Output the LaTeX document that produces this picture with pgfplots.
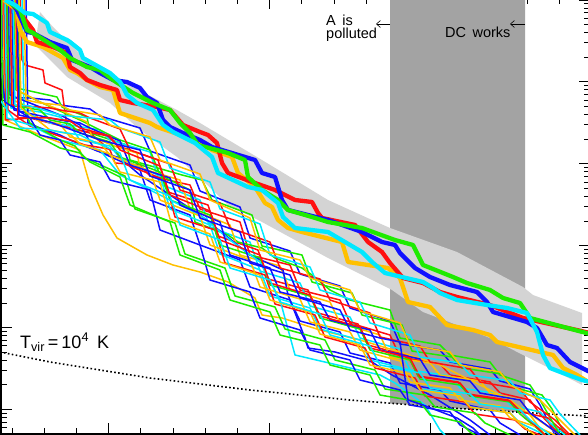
\documentclass[border=0pt]{standalone}
\usepackage{pgfplots}
\pgfplotsset{compat=1.18}
\usepackage{fontspec}
\setmainfont{Liberation Sans}
\usetikzlibrary{arrows.meta}
\definecolor{cb}{RGB}{16,16,255}
\definecolor{cr}{RGB}{255,16,16}
\definecolor{cg}{RGB}{30,235,0}
\definecolor{cc}{RGB}{0,232,255}
\definecolor{co}{RGB}{255,192,0}
\definecolor{dark}{RGB}{163,163,163}
\definecolor{light}{RGB}{212,212,212}
\begin{document}
\begin{tikzpicture}
\begin{axis}[
  scale only axis, width=589pt, height=436pt,
  xmin=1, xmax=590, ymin=-2, ymax=434, y dir=reverse,
  axis line style={line width=1.6pt},
  tick align=inside, tick style={black, line width=0.8pt},
  major tick length=11pt, minor tick length=6pt,
  xtick={108.5,269.5,430.5},
  minor xtick={11.9,44.1,76.3,140.7,172.9,205.1,237.3,301.7,333.9,366.1,398.3,462.7,494.9,527.1,559.3},
  ytick={0,81.9,163.8,245.7,327.6,409.5},
  minor ytick={57.25,42.83,32.59,24.66,18.17,12.69,7.94,3.75,
    139.15,124.73,114.49,106.56,100.07,94.59,89.84,85.65,
    221.05,206.63,196.39,188.46,181.97,176.49,171.74,167.55,
    302.95,288.53,278.29,270.36,263.87,258.39,253.64,249.45,
    384.85,370.43,360.19,352.26,345.77,340.29,335.54,331.35,
    413.25,417.44,422.19,427.67},
  xticklabels={}, yticklabels={},
  clip=true,
]
% dark band (ends at the T_vir line)
\addplot[fill=dark, draw=none] coordinates {(390,-5)(525,-5)(525,412.5)(500,411)(450,408)(400,404)(390,403.5)(390,-5)};
% light band
\addplot[fill=light, draw=none] coordinates {(40,12)(53,27)(83,57)(100,67)(133,87)(177,110)(200,123)(262,160)(328,200)(372,220)(390,228)(457,252)(523,287)(533,295)(582,313)
  (582,385)(557,372)(523,355)(490,338)(457,325)(423,312)(392,290)(328,258)(262,222)(228,205)(200,178)(177,157)(140,130)(110,103)(67,77)(35,45)(40,12)};
% T_vir = 1e4 K line
\addplot[black, line width=1.6pt, dash pattern=on 1.6pt off 2.4pt] coordinates {(0,352)(50,362)(100,370)(150,378)(200,384)(250,390)(300,395)(350,400)(400,404)(450,408)(500,411)(550,414)(590,416)};
% thin lines
\pgfplotsset{thin/.style={line width=1.5pt, line join=round}}
\addplot[cb,thin] coordinates {(2,0)(4,98)(30,98)(50,100)(60,105)(90,109)(100,116)(140,128)(150,151)(190,165)(200,191)(240,207)(250,238)(290,251)(300,274)(340,286)(350,308)(390,321)(400,344)(440,350)(450,362)(490,369)(500,381)(530,389)(540,405)(555,435)};
\addplot[cr,thin] coordinates {(20,0)(22,60)(25,65)(43,70)(45,83)(62,90)(67,127)(90,133)(110,150)(115,163)(140,165)(150,176)(190,185)(200,209)(240,222)(250,255)(290,265)(300,290)(340,300)(350,323)(390,335)(400,357)(440,364)(450,375)(490,382)(500,393)(530,400)(540,414)(560,435)};
\addplot[cg,thin] coordinates {(3,0)(12,87)(57,97)(62,107)(87,117)(90,133)(127,145)(130,160)(182,175)(202,180)(212,200)(252,215)(262,246)(302,255)(312,282)(352,293)(362,315)(402,325)(412,351)(452,357)(462,368)(502,374)(512,387)(542,395)(552,409)(565,435)};
\addplot[cc,thin] coordinates {(9,0)(11,108)(40,112)(60,117)(70,125)(100,130)(110,140)(150,152)(160,184)(200,200)(210,227)(250,242)(260,271)(300,283)(310,306)(350,317)(360,338)(400,349)(410,370)(450,376)(460,388)(500,394)(510,405)(540,412)(550,423)(565,435)};
\addplot[co,thin] coordinates {(3,0)(5,120)(40,135)(80,150)(90,185)(103,215)(117,238)(147,255)(173,265)(200,272)(228,282)(255,298)(262,315)(282,318)(320,330)(360,340)(400,352)(440,365)(480,385)(510,400)(530,415)(545,435)};
\addplot[cb,thin] coordinates {(26,0)(28,123)(40,128)(60,135)(70,140)(100,152)(140,170)(150,200)(190,215)(200,245)(240,260)(250,287)(290,300)(300,321)(340,332)(350,353)(390,363)(400,383)(440,390)(450,401)(490,410)(500,423)(520,435)};
\addplot[cr,thin] coordinates {(4,0)(6,120)(30,118)(78,130)(108,136)(118,146)(158,160)(168,192)(208,205)(218,236)(258,250)(268,279)(308,290)(318,313)(358,324)(368,345)(408,356)(418,376)(458,382)(468,394)(508,400)(518,411)(548,418)(558,427)(568,435)};
\addplot[cg,thin] coordinates {(14,0)(16,90)(40,102)(80,120)(120,140)(150,150)(160,175)(190,190)(195,222)(228,235)(238,242)(262,248)(275,258)(302,268)(312,275)(330,290)(350,300)(390,310)(400,338)(440,345)(450,355)(490,362)(500,375)(530,385)(540,400)(560,435)};
\addplot[cc,thin] coordinates {(22,0)(24,112)(50,123)(70,126)(80,140)(110,146)(120,158)(160,176)(170,209)(210,225)(220,254)(260,270)(270,296)(310,308)(320,329)(360,340)(370,360)(410,370)(420,389)(460,395)(470,407)(510,413)(520,423)(545,435)};
\addplot[co,thin] coordinates {(15,0)(17,90)(40,102)(60,110)(87,122)(92,137)(117,147)(137,153)(140,168)(180,180)(190,209)(230,225)(240,255)(280,266)(290,290)(330,302)(340,323)(380,335)(390,357)(430,363)(440,375)(480,381)(490,393)(520,400)(530,414)(560,435)};
\addplot[cb,thin] coordinates {(8,0)(10,95)(30,103)(60,115)(80,125)(95,150)(120,158)(140,175)(200,215)(250,255)(283,270)(288,295)(305,338)(308,348)(335,352)(372,362)(392,375)(430,395)(470,420)(490,435)};
\addplot[cr,thin] coordinates {(6,0)(8,110)(30,126)(85,145)(115,150)(125,164)(165,180)(175,217)(215,230)(225,263)(265,275)(275,304)(315,315)(325,337)(365,348)(375,368)(415,378)(425,396)(465,402)(475,414)(515,420)(525,429)(540,435)};
\addplot[cg,thin] coordinates {(7,0)(9,105)(40,110)(50,120)(70,124)(80,133)(110,142)(120,157)(160,172)(170,200)(210,215)(220,245)(260,258)(270,285)(310,296)(320,318)(360,329)(370,350)(410,360)(420,379)(460,385)(470,396)(510,402)(520,414)(545,435)};
\addplot[cc,thin] coordinates {(5,0)(7,118)(30,125)(60,140)(100,150)(120,175)(160,195)(200,215)(230,240)(260,262)(280,300)(295,355)(380,375)(395,383)(425,405)(440,430)(445,435)};
\addplot[co,thin] coordinates {(11,0)(13,100)(30,108)(40,120)(60,124)(70,137)(100,143)(110,155)(150,171)(160,200)(200,216)(210,245)(250,260)(260,287)(300,299)(310,322)(350,332)(360,350)(400,361)(410,382)(450,388)(460,400)(500,406)(510,418)(540,428)(555,435)};
\addplot[cb,thin] coordinates {(12,0)(14,110)(50,118)(60,120)(80,123)(90,128)(120,141)(130,165)(170,178)(180,205)(220,222)(230,255)(270,268)(280,292)(320,302)(330,320)(370,330)(380,350)(420,359)(430,375)(470,381)(480,393)(520,400)(530,413)(560,435)};
\addplot[cr,thin] coordinates {(10,0)(12,105)(50,108)(60,110)(80,113)(90,118)(120,129)(130,150)(170,164)(180,190)(220,203)(230,228)(270,242)(280,268)(320,279)(330,300)(370,313)(380,337)(420,346)(430,362)(470,369)(480,382)(520,389)(530,402)(555,420)(570,435)};
\addplot[cg,thin] coordinates {(18,0)(20,100)(30,123)(60,140)(75,146)(85,158)(125,176)(135,209)(175,223)(185,254)(225,268)(235,296)(275,307)(285,329)(325,340)(335,360)(375,370)(385,389)(425,395)(435,407)(475,413)(485,423)(510,435)};
\addplot[cc,thin] coordinates {(13,0)(15,105)(30,106)(60,115)(110,120)(120,128)(160,142)(170,168)(210,182)(220,209)(260,224)(270,255)(310,267)(320,290)(360,302)(370,323)(410,335)(420,357)(460,363)(470,375)(510,381)(520,393)(550,400)(560,414)(580,435)};
\addplot[co,thin] coordinates {(19,0)(21,108)(40,122)(50,130)(70,134)(80,144)(110,154)(120,172)(160,182)(170,219)(210,234)(220,262)(260,275)(270,300)(310,312)(320,334)(360,345)(370,365)(410,374)(420,390)(460,396)(470,407)(510,413)(520,424)(535,435)};
\addplot[cb,thin] coordinates {(0,60)(5,102)(30,118)(40,135)(60,140)(70,155)(100,162)(110,180)(150,190)(160,230)(200,245)(210,280)(250,292)(260,318)(300,330)(310,350)(350,360)(360,380)(400,390)(410,405)(450,412)(460,425)(480,435)};
\addplot[cr,thin] coordinates {(16,0)(18,118)(50,118)(70,121)(80,128)(110,136)(120,150)(160,166)(170,195)(210,211)(220,240)(260,255)(270,283)(310,295)(320,316)(360,327)(370,348)(410,358)(420,377)(460,383)(470,395)(510,401)(520,411)(545,435)};
\addplot[cg,thin] coordinates {(1,0)(3,125)(30,132)(60,148)(80,153)(90,162)(120,177)(130,205)(170,222)(180,255)(220,270)(230,300)(270,312)(280,335)(320,345)(330,365)(370,375)(380,395)(420,402)(430,415)(460,422)(470,432)(475,435)};
\addplot[cc,thin] coordinates {(0,100)(20,128)(50,130)(60,132)(80,135)(90,140)(120,153)(130,180)(170,196)(180,225)(220,240)(230,268)(270,280)(280,302)(320,314)(330,335)(370,346)(380,365)(420,373)(430,388)(470,394)(480,404)(520,410)(530,420)(550,435)};
\addplot[co,thin] coordinates {(24,0)(26,100)(40,103)(60,105)(70,110)(100,115)(110,125)(150,137)(160,160)(200,174)(210,200)(250,218)(260,250)(300,260)(310,278)(350,290)(360,311)(400,323)(410,345)(450,352)(460,365)(500,372)(510,385)(540,400)(560,420)(575,435)};
\addplot[cb,thin] coordinates {(17,0)(19,115)(50,122)(100,140)(140,150)(150,176)(190,190)(200,218)(240,232)(250,263)(290,275)(300,298)(340,310)(350,330)(380,338)(400,342)(408,400)(423,405)(457,418)(473,428)(480,435)};
% thick lines
\pgfplotsset{thick/.style={line width=4.3pt, line join=round}}
\addplot[co,thick] coordinates {(4,0)(17,10)(20,30)(27,42)(43,47)(63,58)(70,70)(77,73)(87,80)(100,87)(113,90)(120,113)(150,123)(157,127)(187,137)(200,142)(212,150)(232,157)(238,173)(255,187)(265,203)(272,207)(278,220)(288,228)(302,232)(342,242)(348,262)(388,268)(400,278)(408,302)(430,307)(447,325)(473,330)(490,335)(497,342)(523,348)(553,355)(563,368)(577,375)(590,383)};
\addplot[cr,thick] coordinates {(8,0)(20,13)(33,30)(37,42)(53,47)(67,53)(70,67)(80,73)(87,80)(100,85)(117,90)(120,100)(133,103)(157,107)(170,110)(183,125)(200,132)(208,135)(217,143)(222,163)(228,173)(255,183)(275,190)(295,200)(312,202)(318,213)(322,218)(355,225)(368,242)(382,252)(390,263)(403,278)(423,283)(440,292)(457,297)(490,305)(523,318)(590,333)};
\addplot[cb,thick] coordinates {(10,0)(13,5)(17,10)(27,32)(33,33)(50,42)(67,48)(72,60)(80,63)(90,67)(100,73)(113,80)(127,82)(140,88)(147,97)(157,103)(163,120)(170,127)(183,133)(200,140)(212,147)(255,160)(262,173)(275,177)(282,200)(288,210)(328,220)(362,232)(382,242)(395,245)(400,253)(415,268)(430,277)(450,285)(477,292)(487,302)(493,312)(527,322)(537,328)(547,345)(557,348)(570,362)(590,372)};
\addplot[cg,thick] coordinates {(6,0)(20,10)(27,30)(33,33)(60,50)(70,58)(87,67)(100,70)(113,80)(133,93)(153,103)(170,110)(180,123)(190,133)(198,145)(228,153)(245,160)(248,177)(262,190)(278,200)(288,210)(312,217)(328,222)(362,228)(395,240)(413,245)(423,265)(453,277)(467,283)(490,290)(503,298)(520,303)(530,318)(590,334)};
\addplot[cc,thick] coordinates {(5,0)(15,5)(25,13)(33,14)(47,23)(50,32)(67,40)(70,42)(80,50)(83,58)(110,73)(120,82)(123,87)(127,95)(137,103)(153,110)(163,125)(173,132)(195,143)(212,157)(218,173)(248,187)(262,190)(278,203)(283,217)(295,228)(328,232)(345,242)(362,252)(372,262)(385,273)(423,282)(433,288)(440,293)(457,300)(487,305)(507,308)(527,313)(537,332)(543,355)(550,368)(563,373)(582,380)(590,382)};
% annotations
\node[anchor=base west, font=\fontsize{18}{20}\selectfont, inner sep=0pt] at (axis cs:20,348) {T\textsubscript{vir}\,=\,10\textsuperscript{4}\, K};
\node[anchor=north west, align=left, font=\fontsize{14.5}{13}\selectfont, inner sep=0pt] at (axis cs:326,14.5) {A\, is\\polluted};
\node[anchor=base west, font=\fontsize{14.5}{16}\selectfont, inner sep=0pt] at (axis cs:445,38) {DC\, works};
\draw[-{Straight Barb[length=4pt,width=7pt]}, line width=0.6pt] (axis cs:390,24) -- (axis cs:376,24);
\draw[-{Straight Barb[length=4pt,width=7pt]}, line width=0.6pt] (axis cs:525,24) -- (axis cs:510,24);
\end{axis}
\pgfresetboundingbox
\path[use as bounding box] (-1pt,-1pt) rectangle (587pt,434pt);
\end{tikzpicture}
\end{document}
